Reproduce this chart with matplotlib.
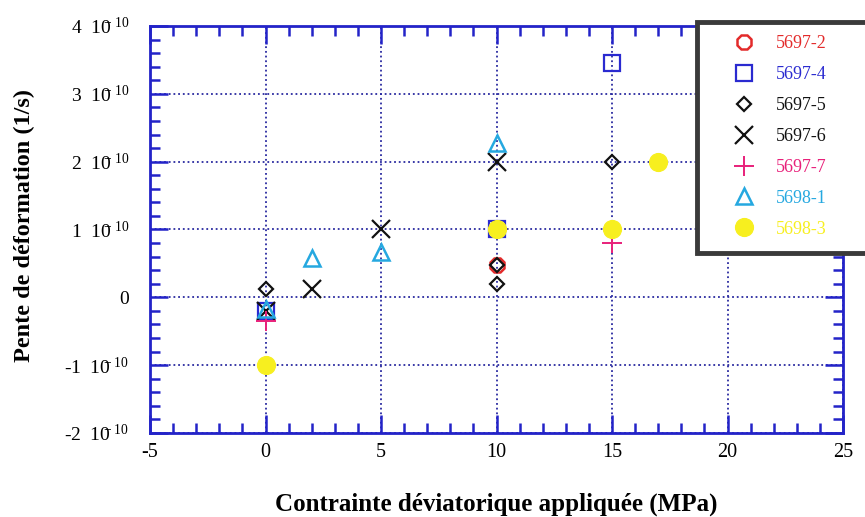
import numpy as np
import matplotlib
matplotlib.use("Agg")
import matplotlib.pyplot as plt
from matplotlib.ticker import MultipleLocator, FuncFormatter
from matplotlib.patches import Rectangle

# strain-rate slope (1/s) versus applied deviatoric stress (MPa), per sample
x_5697_2 = [10]
y_5697_2 = [0.47e-10]
x_5697_4 = [0, 10, 15]
y_5697_4 = [-0.2e-10, 1.0e-10, 3.45e-10]
x_5697_5 = [0, 10, 10, 15]
y_5697_5 = [0.12e-10, 0.2e-10, 0.47e-10, 2.0e-10]
x_5697_6 = [0, 2, 5, 10]
y_5697_6 = [-0.2e-10, 0.12e-10, 1.0e-10, 2.0e-10]
x_5697_7 = [0, 15]
y_5697_7 = [-0.35e-10, 0.8e-10]
x_5698_1 = [0, 2, 5, 10]
y_5698_1 = [-0.17e-10, 0.58e-10, 0.67e-10, 2.28e-10]
x_5698_3 = [0, 10, 15, 17]
y_5698_3 = [-1.0e-10, 1.0e-10, 1.0e-10, 2.0e-10]

labels = ["5697-2", "5697-4", "5697-5", "5697-6", "5697-7", "5698-1", "5698-3"]

plt.rcParams['font.family'] = ['Liberation Serif', 'DejaVu Serif']

BLUE = '#2323c8'
styles = [
    dict(marker='8', color='#e32b2b', mfc='none', ms=11, mew=1.8),
    dict(marker='s', color='#2a2ad0', mfc='none', ms=11, mew=1.6),
    dict(marker='D', color='#111111', mfc='none', ms=7.5, mew=1.6),
    dict(marker='x', color='#111111', ms=13, mew=1.6),
    dict(marker='+', color='#e8207a', ms=14, mew=1.4),
    dict(marker='^', color='#25a8e0', mfc='none', ms=11, mew=1.8),
    dict(marker='o', color='#f7ef1f', mfc='#f7ef1f', ms=13, mew=0.8),
]
series = [(x_5697_2, y_5697_2), (x_5697_4, y_5697_4), (x_5697_5, y_5697_5),
          (x_5697_6, y_5697_6), (x_5697_7, y_5697_7), (x_5698_1, y_5698_1),
          (x_5698_3, y_5698_3)]

fig = plt.figure(figsize=(8.65, 5.17), dpi=100)
ax = fig.add_axes([150 / 865, 1 - 433 / 517, 693 / 865, 407 / 517])

handles = []
for (xs, ys), st, lab in zip(series, styles, labels):
    h, = ax.plot(xs, ys, linestyle='none', label=lab, zorder=3, **st)
    handles.append(h)

ax.set_xlim(-5, 25)
ax.set_ylim(-2e-10, 4e-10)
ax.xaxis.set_major_locator(MultipleLocator(5))
ax.xaxis.set_minor_locator(MultipleLocator(1))
ax.yaxis.set_major_locator(MultipleLocator(1e-10))
ax.yaxis.set_minor_locator(MultipleLocator(0.2e-10))


def fmt_y(v, pos):
    n = int(round(v * 1e10))
    if n == 0:
        return "0"
    return "%d  $\\mathregular{10^{\\!\\!\\!\\!-10}}$" % n


ax.yaxis.set_major_formatter(FuncFormatter(fmt_y))
ax.xaxis.set_major_formatter(FuncFormatter(lambda v, p: "%d" % v))

for s in ax.spines.values():
    s.set_color(BLUE)
    s.set_linewidth(2)
ax.tick_params(which='both', direction='in', top=True, right=True,
               color=BLUE, width=1.8)
ax.tick_params(which='major', length=13)
ax.tick_params(which='minor', length=7.5)
ax.tick_params(axis='x', pad=7, labelsize=14.5)
ax.tick_params(axis='y', pad=15, labelsize=14)

ax.grid(True, which='major', color='#2a2aa0', linestyle=(0, (1, 1.6)), linewidth=1.3)
ax.set_axisbelow(True)

ax.set_xlabel("Contrainte déviatorique appliquée (MPa)", fontsize=18,
              fontweight='bold')
ax.set_ylabel("Pente de déformation (1/s)", fontsize=17.5, fontweight='bold')
ax.xaxis.set_label_coords(0.5, -0.147)
ax.yaxis.set_label_coords(-0.166, 0.51)

# legend box with heavy dark border, running off the right edge
box = Rectangle((697 / 865, 1 - 253 / 517), 0.3, 231 / 517,
                transform=fig.transFigure, facecolor='white',
                edgecolor='#3a3a3a', linewidth=3.5, zorder=4)
fig.patches.append(box)
leg = fig.legend(handles=handles, loc='upper left',
                 bbox_to_anchor=(713 / 865, 1 - 19 / 517), frameon=False,
                 fontsize=13, handlelength=1.6, handletextpad=1.0,
                 labelspacing=0.77, numpoints=1)
leg.set_zorder(5)
for t, st in zip(leg.get_texts(), styles):
    t.set_color(st['color'])

fig.savefig("out.png", dpi=100)
